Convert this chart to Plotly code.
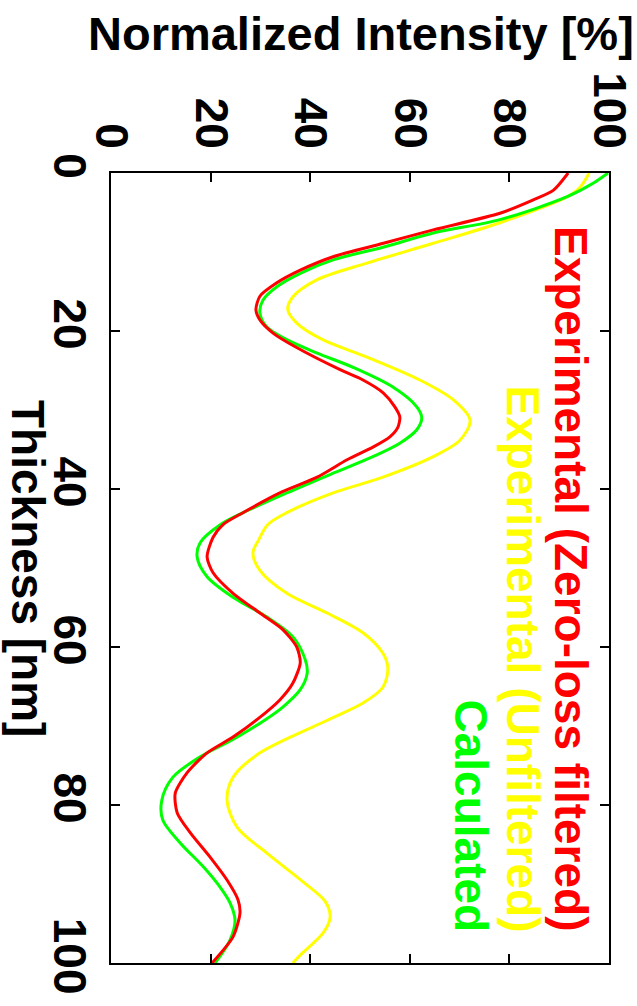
import plotly.graph_objects as go

# Thickness [nm] and normalized intensity [%]
red_t = [0, 2.2, 3.4, 5.1, 7.2, 8.9, 10.6, 12.3, 13.9, 15.6, 17.3, 18.6, 20.3, 22.0, 24.9, 26.2,
         27.8, 29.6, 30.9, 32.2, 33.4, 34.7, 36.3, 38.5, 40.5, 43.0, 44.5, 46.1, 48.6, 50.6, 53.2,
         55.7, 57.8, 60.0, 62.0, 64.6, 66.7, 69.2, 71.4, 73.4, 75.9, 78.5, 81.0, 83.5, 86.6, 89.5,
         92.0, 93.7, 96.7, 100]
red_i = [91.8, 88.8, 84.8, 78.1, 64.7, 54.7, 44.6, 38.0, 33.3, 29.9, 29.1, 29.9, 32.6, 37.0, 46.0, 50.6,
         54.6, 57.0, 58.0, 57.6, 56.0, 52.6, 47.4, 41.4, 33.9, 26.5, 22.5, 20.5, 19.3, 20.5, 24.5,
         29.9, 34.5, 37.3, 38.0, 36.5, 33.9, 29.3, 24.5, 19.3, 15.3, 12.9, 13.3, 15.9, 19.9, 23.3,
         25.5, 25.9, 24.5, 20.3]

yellow_t = [0, 1.8, 3.0, 6.3, 8.9, 11.4, 13.5, 15.7, 17.3, 19.0, 21.1, 23.3, 26.2, 28.7, 31.3, 33.8,
            35.9, 38.5, 40.5, 43.0, 44.5, 46.5, 48.1, 50.3, 53.2, 55.7, 58.2, 60.8, 62.7, 65.1, 67.1,
            69.4, 73.4, 76.5, 79.4, 82.8, 86.1, 89.7, 92.2, 94.2, 96.2, 99.0, 100]
yellow_i = [96.0, 94.2, 91.6, 78.1, 64.7, 51.4, 41.4, 36.5, 35.5, 37.3, 42.5, 51.4, 62.0, 68.7, 72.1, 70.1,
            64.7, 54.6, 44.6, 35.3, 31.5, 29.6, 28.5, 29.9, 35.3, 43.4, 50.6, 54.6, 55.6, 54.6, 50.6,
            43.0, 29.9, 24.5, 23.3, 25.3, 31.3, 38.5, 43.0, 44.0, 42.6, 38.0, 36.5]

green_t = [0, 1.3, 3.0, 5.9, 7.6, 9.4, 11.0, 12.7, 14.4, 16.1, 17.7, 19.5, 21.1, 22.8, 24.6, 27.1,
           29.6, 31.0, 32.5, 34.2, 35.9, 38.0, 40.5, 43.0, 44.5, 46.8, 48.6, 51.1, 53.7, 56.2, 58.7,
           61.6, 63.3, 65.4, 67.6, 69.2, 71.7, 73.9, 76.5, 79.4, 81.9, 84.8, 87.8, 90.4, 92.4, 94.6,
           97.1, 100]
green_i = [99.8, 96.8, 91.6, 78.1, 64.7, 54.6, 44.6, 38.0, 33.3, 30.5, 29.9, 31.3, 35.3, 41.4, 48.6, 56.6,
           61.4, 62.4, 61.4, 58.0, 52.6, 44.6, 35.3, 26.5, 22.0, 17.9, 17.3, 19.3, 24.5, 31.3, 36.5,
           39.0, 39.4, 38.0, 34.5, 31.0, 24.5, 17.9, 12.4, 10.2, 10.4, 13.9, 18.5, 21.9, 23.9, 24.9,
           23.9, 20.9]

tick_vals = [0, 20, 40, 60, 80, 100]
tick_text = ["0", "20", "40", "60", "80", "100"]

series_names = ["Experimental (Zero-loss filtered)", "Experimental (Unfiltered)", "Calculated"]
series_colors = ["#ff0000", "#ffff00", "#00ff00"]

FONT = "Liberation Sans, Arial, Helvetica, sans-serif"

fig = go.Figure()
fig.add_trace(go.Scatter(x=yellow_i, y=yellow_t, mode="lines", name=series_names[1],
                         line=dict(color=series_colors[1], width=3, shape="spline", smoothing=0.9)))
fig.add_trace(go.Scatter(x=green_i, y=green_t, mode="lines", name=series_names[2],
                         line=dict(color=series_colors[2], width=3, shape="spline", smoothing=0.9)))
fig.add_trace(go.Scatter(x=red_i, y=red_t, mode="lines", name=series_names[0],
                         line=dict(color=series_colors[0], width=3, shape="spline", smoothing=0.7)))

axis_common = dict(
    showgrid=False, zeroline=False, showline=True, linecolor="black", linewidth=2,
    mirror="ticks", ticks="inside", ticklen=9, tickwidth=1.5, tickcolor="black",
    tickvals=tick_vals, ticktext=tick_text, tickangle=90, automargin=False,
    tickfont=dict(family=FONT, size=46, color="black", weight="bold"),
)

fig.update_layout(
    width=637, height=1006,
    margin=dict(l=111, r=28, t=173, b=43),
    paper_bgcolor="white", plot_bgcolor="white",
    showlegend=False,
    xaxis=dict(range=[0, 100], side="top", ticklabelstandoff=6, **axis_common),
    yaxis=dict(range=[100, 0], **axis_common),
)

# Axis titles
fig.add_annotation(text="<b>Normalized Intensity [%]</b>", xref="paper", yref="paper",
                   x=(361 - 111) / 498, y=(963 - 34) / 790, xanchor="center", yanchor="middle",
                   showarrow=False, font=dict(family=FONT, size=47, color="black"))
fig.add_annotation(text="<b>Thickness [nm]</b>", xref="paper", yref="paper",
                   x=(28 - 111) / 498, y=0.5, xanchor="center", yanchor="middle", textangle=90,
                   showarrow=False, font=dict(family=FONT, size=46, color="black"))

# Legend entries (rotated text, right-justified)
legend_x_px = [571, 523, 471]
for name, color, xp in zip(series_names, series_colors, legend_x_px):
    fig.add_annotation(text="<b>" + name + "</b>", xref="paper", yref="paper",
                       x=(xp - 111) / 498, y=(963 - 933) / 790, xanchor="center", yanchor="bottom",
                       textangle=90, showarrow=False, borderpad=0,
                       font=dict(family=FONT, size=46, color=color))

fig.write_html("out.html")
